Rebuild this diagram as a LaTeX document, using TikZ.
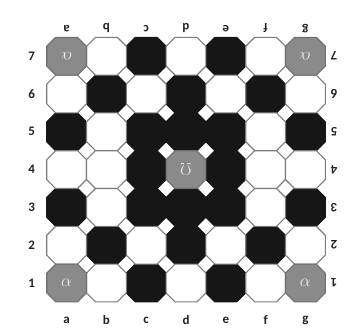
\documentclass[tikz,border=0pt]{standalone}
\usepackage{fontspec}
\setmainfont{Carlito}
\usepackage{graphicx}
\definecolor{blk}{HTML}{161616}
\definecolor{gry}{HTML}{8A8A8A}
\definecolor{gryedge}{HTML}{6E6E6E}
\definecolor{edge}{HTML}{7C7C7C}
\definecolor{lbl}{HTML}{222222}
\definecolor{symc}{HTML}{EEEEEE}
\newcommand\octcell[3]{%
  \pgfmathsetmacro\cx{46.7+39.8*(#1+0.5)}%
  \pgfmathsetmacro\cy{37.3+37.8*(7.5-#2)}%
  \path[#3] (\cx-10.9,\cy-18.9) -- (\cx+10.9,\cy-18.9) -- (\cx+19.9,\cy-9.9) -- (\cx+19.9,\cy+9.9) -- (\cx+10.9,\cy+18.9) -- (\cx-10.9,\cy+18.9) -- (\cx-19.9,\cy+9.9) -- (\cx-19.9,\cy-9.9) -- cycle;
}
\begin{document}
\begin{tikzpicture}[x=1pt,y=-1pt,
  blackcell/.style={fill=blk,draw=blk,line width=1.1pt,line join=round},
  whitecell/.style={fill=white,draw=edge,line width=1.1pt,line join=round},
  graycell/.style={fill=gry,draw=gryedge,line width=1.1pt,line join=round},
  lab/.style={font=\bfseries\fontsize{13}{13}\selectfont, text=lbl, inner sep=0pt},
  sym/.style={text=symc, font=\fontsize{19}{19}\selectfont, inner sep=0pt}]
\useasboundingbox (0,0) rectangle (362,333);
\fill[white] (0,0) rectangle (362,333);
% black cells (col index a=0, row)
\foreach \c/\r in {2/7,4/7, 1/6,3/6,5/6, 0/5,2/5,3/5,4/5,6/5, 2/4,4/4, 0/3,2/3,3/3,4/3,6/3, 1/2,3/2,5/2, 2/1,4/1}
  {\octcell{\c}{\r}{blackcell}}
% white cells
\foreach \c/\r in {1/7,3/7,5/7, 0/6,2/6,4/6,6/6, 1/5,5/5, 0/4,1/4,5/4,6/4, 1/3,5/3, 0/2,2/2,4/2,6/2, 1/1,3/1,5/1}
  {\octcell{\c}{\r}{whitecell}}
% gray cells
\foreach \c/\r in {0/1,6/1,0/7,6/7,3/4}
  {\octcell{\c}{\r}{graycell}}
% symbols
\node[sym] (s1) at (66.6,282.8) {$\alpha$};
\node[sym] (s2) at (305.2,282.8) {$\alpha$};
\node[sym,rotate=180] (s3) at (66.6,56.2) {$\alpha$};
\node[sym,rotate=180] (s4) at (305.2,56.2) {$\alpha$};
\node[sym,font=\fontsize{16}{16}\selectfont] (s5) at (185.9,169.5) {\rotatebox{180}{$\Omega$}};
% column labels
\foreach \l [count=\i from 0] in {a,b,c,d,e,f,g} {
  \pgfmathsetmacro\lx{46.7+39.8*(\i+0.5)}
  \node[lab] (bot\l) at (\lx,320) {\l};
  \node[lab,rotate=180] (top\l) at (\lx,28.5) {\l};
}
% row labels
\foreach \r in {1,...,7} {
  \pgfmathsetmacro\ly{37.3+37.8*(7.5-\r)}
  \node[lab] (left\r) at (31.7,\ly) {\r};
  \node[lab,rotate=180] (right\r) at (334,\ly) {\r};
}
\end{tikzpicture}
\end{document}
